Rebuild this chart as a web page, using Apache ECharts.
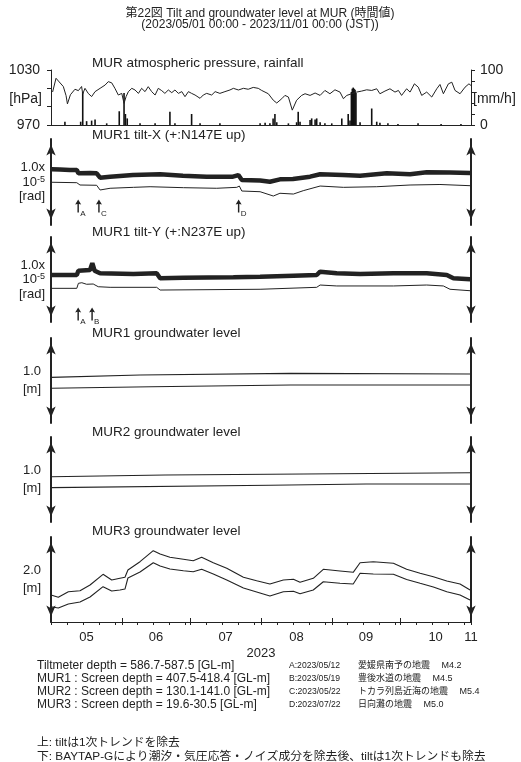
<!DOCTYPE html>
<html><head><meta charset="utf-8">
<script src="https://cdn.jsdelivr.net/npm/echarts@6/dist/echarts.min.js"></script>
<style>html,body{margin:0;padding:0;background:#fff}#c{width:521px;height:762px}</style>
</head><body><div id="c"></div>
<script>
// ---- axis ticks / labels (days since 2023/05/01 00:00) ----
const monthTickDays = [0,31,61,92,123,153,184];
const weekTickDays = [7,14,21,28,38,45,52,59,68,75,82,89,99,106,113,120,130,137,144,151,160,167,174,181];
const monthLabelDays = [15.5,46,76.5,107.5,138,168.5,184];
const monthLabels = ['05','06','07','08','09','10','11'];

// ---- atmospheric pressure [hPa] ----
const pressDay = [0.7,2.2,3.6,5.4,6.6,7.2,8.5,9.5,10.5,12.0,13.4,13.9,14.9,16.3,17.8,19.3,21.5,23.7,25.1,26.6,28.0,29.5,31.0,32.0,32.9,33.9,35.4,36.8,38.3,39.7,41.2,42.6,44.1,45.6,47.0,48.5,49.9,51.4,52.9,54.3,55.8,57.3,58.7,60.2,61.6,63.1,65.3,66.7,68.2,70.4,71.9,74.0,76.2,78.4,79.9,82.1,84.3,86.4,88.6,90.8,92.3,95.2,97.4,98.9,101.1,102.5,104.0,105.7,107.6,109.8,111.3,113.5,115.7,117.9,120.0,122.2,124.4,126.6,128.1,129.6,131.7,133.9,136.1,138.3,140.5,142.7,144.1,146.3,148.5,150.7,152.2,153.6,155.8,157.3,159.2,160.9,162.4,164.6,166.8,169.0,170.4,171.9,174.1,175.6,177.0,179.2,181.4,183.1,184];
const pressVal = [1006,1021,1017,1012,1002,993,1003,1006,1009,1007.5,1012,1004,1010,1004.5,1001,1006.4,1010,1013.6,1017.3,1016,1010,1002.7,1004.5,993.6,1001,1006.4,1010,1008.2,1004.5,1010,1006.4,1011.8,1006.4,1002.7,1010,1007.5,1004.5,1008.2,1005.3,1008.2,1004.5,1006.4,1000.9,1006.4,1004.5,1002.7,999.1,1002.7,1004.5,1002.7,1006.4,1004.5,1006.4,1008.2,1010,1008.2,1010,1009,1011,1010,1007.7,1004.1,997,994,998.7,1002.3,1000.5,986.2,997,1002.3,1004.1,1002.3,1004.9,1002.3,1007.7,1004.1,1008.4,1005.9,998.7,1002.3,1004.1,1005.9,1007,1008.4,1007.7,1009.5,1004.1,1007,1009.5,1005.9,1007.7,1002.3,1009.5,1005.9,1014.9,1011.3,1002.3,1005.9,1000.5,1009.5,1014.2,1004.1,1014.9,1016.7,1007.7,1004.1,1011.3,1014.9,1013.1];

// ---- rainfall [mm/h] ----
const rainDay = [6.1,13.0,13.9,15.6,17.8,19.3,24.4,29.9,32.0,32.6,33.4,39.0,45.6,52.1,54.3,61.6,65.3,74.0,91.6,93.8,95.9,97.3,98.1,98.9,104.0,107.6,108.3,109.1,113.5,114.2,115.7,116.4,117.9,120.0,123.0,127.4,130.2,131.0,131.6,132.0,132.4,132.8,133.2,133.6,135.4,140.5,142.7,144.1,147.6,152.0,160.8,170.9,179.6];
const rainVal = [6,6,60,7,8,10,3,25,58,20,12,3,3,24,3,20,3,3,3,4,3,12,20,5,3,5,24,6,9,12,10,12,5,3,3,12,20,8,60,66,68,66,64,58,5,30,6,4,3,2,3,2,2];

// ---- MUR1 tilt-X [micro rad, arrow = 1.0e-5 rad] ----
const tiltXRawDay = [0.3,3.9,8.3,11.3,12.0,17.1,20.0,21.5,25.9,35.9,47.8,57.8,68.2,79.7,82.1,83.6,91.6,95.9,100.3,106.0,113.5,117.9,127.9,135.4,147.1,157.3,164.6,174.8,183.6];
const tiltXRawVal = [6.48,6.45,6.40,6.40,6.01,6.05,6.01,5.50,5.62,5.81,5.90,5.73,5.62,5.62,5.81,5.23,5.17,5.03,5.31,5.35,5.62,5.90,5.81,5.73,6.01,5.90,6.13,6.10,6.05];
const tiltXCorDay = [0.3,11.3,12.7,20.0,21.5,25.9,36.1,43.4,58.0,72.6,81.4,82.5,83.6,91.6,97.4,100.3,106.2,110.5,117.9,128.1,142.7,157.3,170.4,183.6];
const tiltXCorVal = [4.97,4.92,4.65,4.62,4.07,4.27,4.38,4.45,4.34,4.27,4.38,4.53,3.95,3.87,3.37,3.69,3.60,3.99,4.53,4.38,4.45,4.65,4.71,4.57];

// ---- MUR1 tilt-Y ----
const tiltYRawDay = [0.3,11.3,12.0,17.1,18.1,19.1,21.5,36.1,46.3,47.8,58.0,79.9,91.6,106.2,116.4,117.9,125.2,135.4,150.0,164.6,173.4,176.3,183.6];
const tiltYRawVal = [5.53,5.53,6.04,6.12,6.91,6.04,5.73,5.65,5.73,5.14,5.21,5.26,5.33,5.45,5.53,5.92,5.73,5.65,5.73,5.73,5.53,5.14,5.02];
const tiltYCorDay = [0.3,11.3,12.0,13.5,15.6,18.5,20.7,25.9,46.3,47.8,91.6,116.4,117.9,125.2,150.0,164.6,171.9,174.8,183.6];
const tiltYCorVal = [3.96,3.96,4.55,4.62,4.44,4.47,4.15,4.08,4.08,3.76,3.85,4.08,4.35,4.24,4.24,4.35,4.24,3.85,3.68];

// ---- groundwater levels [m] ----
const mur1UpDay = [0,39,105,184];
const mur1UpVal = [0.537,0.565,0.584,0.576];
const mur1LoDay = [0,44,105,184];
const mur1LoVal = [0.408,0.427,0.447,0.447];
const mur2UpDay = [0,50,96,184];
const mur2UpVal = [0.533,0.553,0.561,0.580];
const mur2LoDay = [0,96,138,184];
const mur2LoVal = [0.404,0.432,0.447,0.447];
const mur3Day = [0,3.2,7.6,12.7,17.1,22.8,26.6,30.2,32.4,33.7,39.0,44.8,47.8,52.1,58.0,62.3,66.0,71.1,77.0,84.3,90.1,95.9,101.8,106.2,109.1,114.9,119.3,126.6,132.4,135.4,141.2,150.0,155.8,161.7,167.5,173.4,179.2,183.6];
const mur3UpVal = [0.635,0.581,0.713,0.736,0.871,1.122,0.988,1.028,1.052,1.224,1.419,1.678,1.6,1.522,1.475,1.442,1.522,1.395,1.264,1.052,0.972,0.894,0.988,1.005,0.934,1.028,1.24,1.2,1.169,1.395,1.419,1.381,1.24,1.146,1.066,0.965,0.894,0.753];
const mur3LoVal = [0.36,0.329,0.424,0.471,0.588,0.831,0.729,0.753,0.776,1.035,1.176,1.395,1.318,1.247,1.207,1.184,1.24,1.129,0.988,0.8,0.706,0.612,0.713,0.722,0.666,0.753,0.948,0.911,0.894,1.146,1.129,1.122,1.0,0.911,0.824,0.713,0.635,0.518];

// ---- earthquakes ----
const tiltXEventNames = ['A','C','D'];
const tiltXEventDays = [11.9,21.0,82.2];
const tiltYEventNames = ['A','B'];
const tiltYEventDays = [11.9,18.0];

const eqDates = ['A:2023/05/12','B:2023/05/19','C:2023/05/22','D:2023/07/22'];
const eqNames = ['愛媛県南予の地震　 M4.2','豊後水道の地震　 M4.5','トカラ列島近海の地震　 M5.4','日向灘の地震　 M5.0'];
const depthLines = ['Tiltmeter depth = 586.7-587.5 [GL-m]','MUR1 : Screen depth = 407.5-418.4 [GL-m]','MUR2 : Screen depth = 130.1-141.0 [GL-m]','MUR3 : Screen depth = 19.6-30.5 [GL-m]'];

const FONT = "'Liberation Sans','Noto Sans CJK JP',sans-serif";
const INK = '#222';
const zip = (a, b) => a.map((d, i) => [d, b[i]]);

const gridTops = [70,139,237,338,437,537];
const gridHeights = [55,86,85,85,85,85];
const grid = gridTops.map((t, i) => ({left:51, width:420, top:t, height:gridHeights[i], containLabel:false, outerBoundsMode:'none'}));

const xAxis = grid.map((g, i) => ({
  gridIndex:i, type:'value', min:0, max:184, position:'bottom',
  axisLine:{show: i===0 || i===5, onZero:false, lineStyle:{color:INK, width:1.2}},
  axisTick:{show:false}, axisLabel:{show:false}, splitLine:{show:false}
}));
xAxis[5].axisTick = {show:true, customValues: monthTickDays.concat(weekTickDays), length:3, lineStyle:{color:INK, width:1}};
xAxis[5].axisLabel = {show:true, customValues: monthLabelDays, margin:9, fontSize:13, fontFamily:FONT, color:INK,
  formatter: v => monthLabels[monthLabelDays.indexOf(v)]};
xAxis[5].name = '2023';
xAxis[5].nameLocation = 'middle';
xAxis[5].nameGap = 25;
xAxis[5].nameTextStyle = {fontSize:13, fontFamily:FONT, color:INK};
xAxis.push({gridIndex:5, type:'value', min:0, max:184, position:'bottom',
  axisLine:{show:false, onZero:false}, axisLabel:{show:false}, splitLine:{show:false},
  axisTick:{show:true, inside:true, customValues: monthTickDays, length:4, lineStyle:{color:INK, width:1}}});

function arrowAxis(gi, pos, max, name, gap, rich) {
  return {gridIndex:gi, type:'value', min:0, max:max, position:pos,
    axisLine:{show:true, onZero:false, symbol:['arrow','arrow'], symbolSize:[7,11], symbolOffset:[5.5,-5.5],
      lineStyle:{color:INK, width:2}},
    axisTick:{show:false}, axisLabel:{show:false}, splitLine:{show:false},
    name: name, nameLocation:'middle', nameRotate:0, nameGap:gap,
    nameTextStyle: rich || {fontSize:13, fontFamily:FONT, color:INK, lineHeight:18}};
}
const tiltRich = {color:INK, fontFamily:FONT, rich:{
  a:{fontSize:13, lineHeight:14.5, fontFamily:FONT, color:INK},
  s:{fontSize:9, lineHeight:14.5, verticalAlign:'top', fontFamily:FONT, color:INK}}};
const tiltName = '{a|1.0x}\n{a|10}{s|-5}\n{a|[rad]}';

const yAxis = [
  {gridIndex:0, type:'value', min:970, max:1030, position:'left',
    axisLine:{show:true, onZero:false, lineStyle:{color:INK, width:1}},
    axisTick:{show:true, customValues:[970,990,1010,1030], length:4, lineStyle:{color:INK}},
    axisLabel:{show:true, customValues:[970,1030], margin:11, fontSize:14, fontFamily:FONT, color:INK, formatter: v => String(v)},
    splitLine:{show:false}},
  {gridIndex:0, type:'value', min:0, max:100, position:'right',
    axisLine:{show:true, onZero:false, lineStyle:{color:INK, width:1}},
    axisTick:{show:true, customValues:[0,20,40,60,80,100], length:4, lineStyle:{color:INK}},
    axisLabel:{show:true, customValues:[0,100], margin:9, fontSize:14, fontFamily:FONT, color:INK, formatter: v => String(v)},
    splitLine:{show:false}},
  arrowAxis(1,'left',10,tiltName,6,tiltRich), arrowAxis(1,'right',10,'',0),
  arrowAxis(2,'left',10,tiltName,6,tiltRich), arrowAxis(2,'right',10,'',0),
  arrowAxis(3,'left',1,'1.0\n[m]',10), arrowAxis(3,'right',1,'',0),
  arrowAxis(4,'left',1,'1.0\n[m]',10), arrowAxis(4,'right',1,'',0),
  arrowAxis(5,'left',2,'2.0\n[m]',10), arrowAxis(5,'right',2,'',0)
];

const arrowPath = 'path://M5,0L10,9L6.2,8L6.2,24L3.8,24L3.8,8L0,9Z';
function eventMarks(names, days, yv) {
  return {symbol:arrowPath, symbolSize:[6,13], itemStyle:{color:INK},
    label:{show:true, formatter:'{b}', position:[5,10], fontSize:8, fontFamily:FONT, color:INK},
    data: names.map((n, i) => ({name:n, coord:[days[i], yv]}))};
}
function line(xi, yi, data, w, extra) {
  return Object.assign({type:'line', xAxisIndex:xi, yAxisIndex:yi, data:data, symbol:'none', silent:true,
    lineStyle:{color:INK, width:w}, itemStyle:{color:INK}}, extra || {});
}

const series = [
  line(0,0,zip(pressDay,pressVal),1),
  {type:'bar', xAxisIndex:0, yAxisIndex:1, data:zip(rainDay,rainVal), barWidth:1.6, itemStyle:{color:'#111'}, silent:true},
  line(1,2,zip(tiltXRawDay,tiltXRawVal),4.5),
  line(1,2,zip(tiltXCorDay,tiltXCorVal),1,{markPoint:eventMarks(tiltXEventNames,tiltXEventDays,2.2)}),
  line(2,4,zip(tiltYRawDay,tiltYRawVal),4.5),
  line(2,4,zip(tiltYCorDay,tiltYCorVal),1,{markPoint:eventMarks(tiltYEventNames,tiltYEventDays,0.94)}),
  line(3,6,zip(mur1UpDay,mur1UpVal),1.1),
  line(3,6,zip(mur1LoDay,mur1LoVal),1.1),
  line(4,8,zip(mur2UpDay,mur2UpVal),1.1),
  line(4,8,zip(mur2LoDay,mur2LoVal),1.1),
  line(5,10,zip(mur3Day,mur3UpVal),1.1),
  line(5,10,zip(mur3Day,mur3LoVal),1.1)
];

function txt(x, y, s, size, align) {
  return {type:'text', x:x, y:y, silent:true,
    style:{text:s, font: size + 'px ' + FONT, fill:INK, textAlign:align||'left', textVerticalAlign:'middle'}};
}
const panelTitles = ['MUR atmospheric pressure, rainfall','MUR1 tilt-X (+:N147E up)','MUR1 tilt-Y (+:N237E up)','MUR1 groundwater level','MUR2 groundwater level','MUR3 groundwater level'];
const panelTitleY = [63,135,232,333,432,531];
const graphic = [
  txt(260,14,'第22図 Tilt and groundwater level at MUR (時間値)',12,'center'),
  txt(260,25,'(2023/05/01 00:00 - 2023/11/01 00:00 (JST))',12,'center'),
  txt(42,99,'[hPa]',14,'right'),
  txt(473,99,'[mm/h]',14,'left')
];
panelTitles.forEach((t, i) => graphic.push(txt(92,panelTitleY[i],t,13.5)));
const rowY = [666,679,692,705];
depthLines.forEach((t, i) => graphic.push(txt(37,rowY[i],t,12)));
eqDates.forEach((t, i) => graphic.push(txt(289,rowY[i],t,8.6)));
eqNames.forEach((t, i) => graphic.push(txt(358,rowY[i],t,9)));
graphic.push(txt(37,743,'上: tiltは1次トレンドを除去',11.8));
graphic.push(txt(37,757,'下: BAYTAP-Gにより潮汐・気圧応答・ノイズ成分を除去後、tiltは1次トレンドも除去',11.8));

const chart = echarts.init(document.getElementById('c'), null, {renderer:'canvas'});
chart.setOption({animation:false, backgroundColor:'#fff', grid, xAxis, yAxis, series, graphic});
</script>
</body></html>
